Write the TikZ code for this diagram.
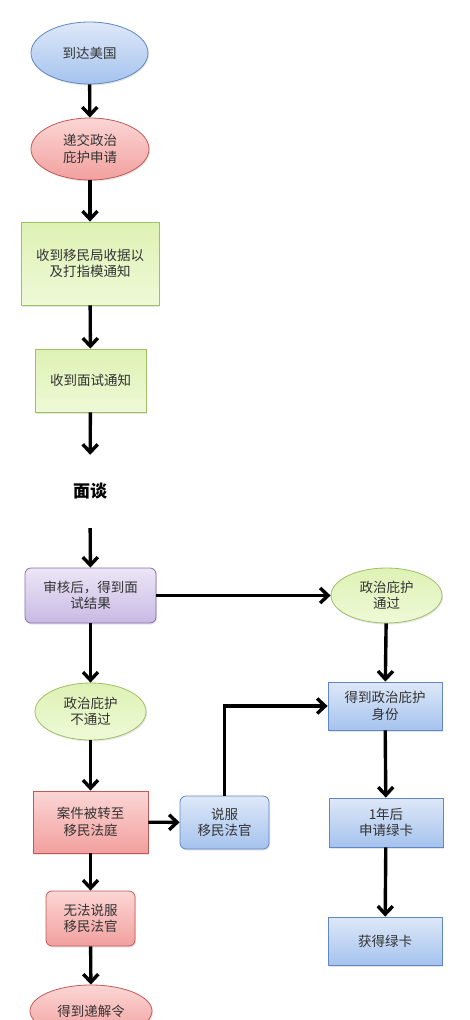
\documentclass[tikz,border=0pt]{standalone}
\usepackage{fontspec}
\setmainfont{Noto Sans CJK SC}
\usetikzlibrary{shapes.geometric, arrows.meta, positioning, calc, shadows}
\definecolor{cBlueDraw}{RGB}{95, 135, 195}
\definecolor{cBlueTop}{RGB}{222, 232, 248}
\definecolor{cBlueBot}{RGB}{165, 195, 238}
\definecolor{cRedDraw}{RGB}{192, 90, 88}
\definecolor{cRedTop}{RGB}{251, 214, 213}
\definecolor{cRedBot}{RGB}{242, 160, 158}
\definecolor{cGreenDraw}{RGB}{160, 190, 100}
\definecolor{cGreenTop}{RGB}{222, 242, 180}
\definecolor{cGreenBot}{RGB}{238, 249, 215}
\definecolor{cPurpleDraw}{RGB}{135, 110, 168}
\definecolor{cPurpleTop}{RGB}{236, 230, 246}
\definecolor{cPurpleBot}{RGB}{200, 186, 228}
\definecolor{lineColor}{RGB}{0, 0, 0}
\tikzset{
    font=\fontsize{13.5}{16.5}\selectfont,
    % --- 填充 ---
    fillBlue/.style={draw=cBlueDraw, top color=cBlueTop, bottom color=cBlueBot},
    fillRed/.style={draw=cRedDraw, top color=cRedTop, bottom color=cRedBot},
    fillGreen/.style={draw=cGreenDraw, top color=cGreenTop, bottom color=cGreenBot},
    fillPurple/.style={draw=cPurpleDraw, top color=cPurpleTop, bottom color=cPurpleBot},
    % --- 节点 ---
    baseNode/.style={
        line width=0.8pt, align=center, inner sep=0pt,
        text=black!80,
        drop shadow={opacity=0.2, shadow xshift=1pt, shadow yshift=-1.5pt}
    },
    ovalNode/.style={baseNode, ellipse, minimum width=#1},
    boxNode/.style={baseNode, rectangle, minimum width=#1},
    roundNode/.style={baseNode, rectangle, rounded corners=6pt, minimum width=#1},
    % --- 连线 ---
    conn/.style={
        draw=lineColor, line width=3.4pt,
        -{Straight Barb[length=8pt, width=15pt, line width=3.4pt]}
    }
}

\begin{document}
\begin{tikzpicture}[x=1pt, y=-1pt]

	\useasboundingbox (0, 0) rectangle (470, 1020);
	\clip (0, 0) rectangle (470, 1020);

	% =========================================
	% 1. 左列
	% =========================================
	\node[ovalNode=117pt, minimum height=62pt, fillBlue] (arrive) at (89.5, 53) {到达美国};
	\node[ovalNode=118pt, minimum height=62pt, fillRed] (apply) at (90, 149) {递交政治\\庇护申请};
	\node[boxNode=138pt, minimum height=83pt, fillGreen] (receipt) at (90, 263.5) {收到移民局收据以\\及打指模通知};
	\node[boxNode=111pt, minimum height=63pt, fillGreen] (notice) at (90.5, 380.5) {收到面试通知};

	% 面谈 (无边框)
	\node[minimum height=73pt, inner sep=0pt, font=\fontsize{17}{20}\selectfont\bfseries] (interview) at (90, 491.5) {面谈};

	\node[roundNode=131pt, minimum height=55pt, fillPurple] (result) at (90.5, 595.5) {审核后，得到面\\试结果};
	\node[ovalNode=111pt, minimum height=57pt, fillGreen] (fail) at (90.5, 711.5) {政治庇护\\不通过};
	\node[boxNode=115pt, minimum height=62pt, fillRed] (court) at (90.5, 822) {案件被转至\\移民法庭};
	\node[roundNode=89pt, minimum height=55pt, fillRed] (noPersuade) at (90.5, 918.5) {无法说服\\移民法官};
	% 底部被裁掉一半
	\node[ovalNode=122pt, minimum height=52pt, fillRed] (deport) at (91, 1011) {得到递解令};

	% =========================================
	% 2. 中列与右列
	% =========================================
	\node[roundNode=89pt, minimum height=53pt, fillBlue] (persuade) at (224.5, 822.5) {说服\\移民法官};

	\node[ovalNode=111pt, minimum height=55pt, fillGreen] (pass) at (386.5, 595.5) {政治庇护\\通过};
	\node[boxNode=114pt, minimum height=48pt, fillBlue] (status) at (385, 706) {得到政治庇护\\身份};
	\node[boxNode=114pt, minimum height=49pt, fillBlue] (cardApply) at (386, 822.5) {1年后\\申请绿卡};
	\node[boxNode=114pt, minimum height=48pt, fillBlue] (card) at (385, 941) {获得绿卡};

	% =========================================
	% 3. 连线
	% =========================================
	\draw[conn] (arrive) -- (apply);
	\draw[conn] (apply) -- (receipt);
	\draw[conn] (receipt) -- (notice);
	\draw[conn] (notice) -- (interview);
	\draw[conn] (interview) -- (result);
	\draw[conn] (result) -- (pass);
	\draw[conn] (result) -- (fail);
	\draw[conn] (fail) -- (court);
	\draw[conn] (court) -- (persuade);
	\draw[conn] (court) -- (noPersuade);
	\draw[conn] (noPersuade) -- (deport);
	\draw[conn] (persuade.north) |- (status.west);
	\draw[conn] (pass) -- (status);
	\draw[conn] (status) -- (cardApply);
	\draw[conn] (cardApply) -- (card);

\end{tikzpicture}
\end{document}
